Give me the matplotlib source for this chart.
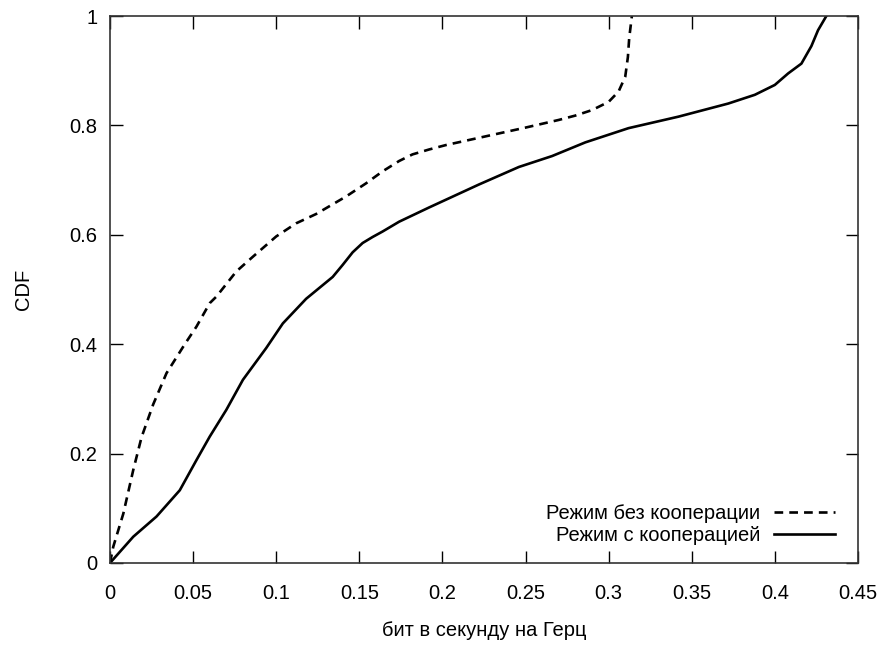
import matplotlib
matplotlib.use("Agg")
import matplotlib.pyplot as plt

plt.rcParams['font.family'] = ['Liberation Sans', 'DejaVu Sans']

# Режим без кооперации (dashed)
x_nocoop = [0.0, 0.002, 0.008, 0.014, 0.019, 0.026, 0.034, 0.045, 0.052, 0.060,
            0.064, 0.070, 0.076, 0.086, 0.100, 0.112, 0.124, 0.142, 0.154, 0.164,
            0.174, 0.182, 0.192, 0.202, 0.226, 0.250, 0.270, 0.280, 0.290, 0.300,
            0.306, 0.310, 0.3116, 0.3124, 0.314]
y_nocoop = [0.0, 0.03, 0.09, 0.17, 0.23, 0.29, 0.347, 0.40, 0.432, 0.475,
            0.487, 0.51, 0.533, 0.560, 0.597, 0.621, 0.638, 0.670, 0.694, 0.716,
            0.735, 0.747, 0.756, 0.764, 0.780, 0.796, 0.810, 0.818, 0.828, 0.843,
            0.862, 0.889, 0.925, 0.96, 1.0]

# Режим с кооперацией (solid)
x_coop = [0.0, 0.014, 0.028, 0.042, 0.052, 0.060, 0.070, 0.080, 0.094, 0.104,
          0.118, 0.134, 0.140, 0.146, 0.152, 0.158, 0.164, 0.174, 0.192, 0.222,
          0.246, 0.266, 0.286, 0.312, 0.342, 0.372, 0.388, 0.400, 0.408, 0.416,
          0.422, 0.426, 0.431]
y_coop = [0.0, 0.048, 0.085, 0.133, 0.188, 0.231, 0.280, 0.335, 0.393, 0.438,
          0.483, 0.523, 0.545, 0.568, 0.585, 0.596, 0.606, 0.624, 0.650, 0.692,
          0.724, 0.744, 0.769, 0.795, 0.816, 0.840, 0.856, 0.874, 0.895, 0.913,
          0.945, 0.974, 1.0]

x_ticks = [0, 0.05, 0.1, 0.15, 0.2, 0.25, 0.3, 0.35, 0.4, 0.45]
x_labels = ['0', '0.05', '0.1', '0.15', '0.2', '0.25', '0.3', '0.35', '0.4', '0.45']
y_ticks = [0, 0.2, 0.4, 0.6, 0.8, 1]
y_labels = ['0', '0.2', '0.4', '0.6', '0.8', '1']

fig = plt.figure(figsize=(8.82, 6.46), dpi=100)
ax = fig.add_axes([0.1247, 0.1285, 0.848, 0.8467])

ax.plot(x_nocoop, y_nocoop, color='black', lw=1.9, dashes=(3.3, 2.3),
        label='Режим без кооперации')
ax.plot(x_coop, y_coop, color='black', lw=1.9, solid_joinstyle='round',
        label='Режим с кооперацией')

ax.set_xlim(0, 0.45)
ax.set_ylim(0, 1)
ax.set_xticks(x_ticks)
ax.set_xticklabels(x_labels)
ax.set_yticks(y_ticks)
ax.set_yticklabels(y_labels)
ax.tick_params(direction='in', length=9, width=1, top=True, right=True,
               labelsize=14.5)
ax.tick_params(axis='x', pad=15)
ax.tick_params(axis='y', pad=9)
for s in ax.spines.values():
    s.set_linewidth(1.2)
    s.set_color('#333333')

ax.set_xlabel('бит в секунду на Герц', fontsize=14.5, labelpad=13)
ax.set_ylabel('CDF', fontsize=14.5, labelpad=26)

ax.legend(loc='lower right', bbox_to_anchor=(0.993, 0.0), frameon=False,
          markerfirst=False, fontsize=14.5, handlelength=3.0,
          handletextpad=0.7, labelspacing=0.15, borderaxespad=0.5)

fig.savefig('out.png', dpi=100)
